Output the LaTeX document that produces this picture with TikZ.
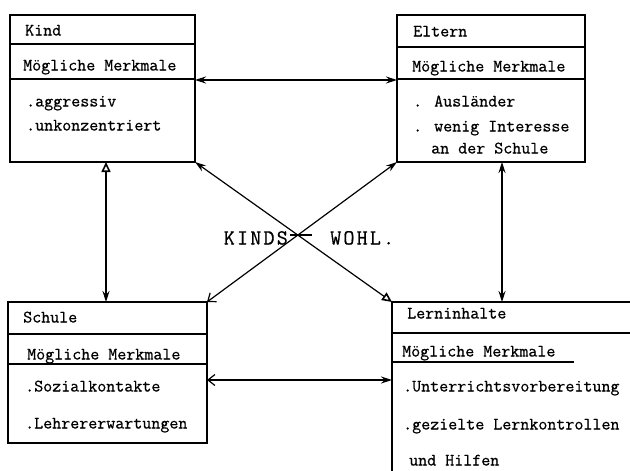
\documentclass[tikz,border=0pt]{standalone}
\usepackage{fontspec}
\newfontfamily\tw[FakeBold=0.6]{Latin Modern Mono}
\newfontfamily\twk[LetterSpace=10,FakeBold=0.6]{Latin Modern Mono}
\usetikzlibrary{arrows.meta}
\tikzset{
  fa/.tip={Stealth[length=11pt,width=7pt]},
  oa/.tip={Triangle[open,length=10pt,width=9pt,line width=1.6pt]},
  ba/.tip={Straight Barb[length=7pt,width=11pt,line width=1.2pt]}
}
\begin{document}
\begin{tikzpicture}[x=1pt,y=-1pt,
  box/.style={draw, line width=1.1pt, inner sep=0pt, outer sep=0pt},
  openbox/.style={inner sep=0pt, outer sep=0pt},
  rule/.style={line width=1.1pt},
  txt/.style={anchor=west, inner sep=0pt, font=\tw\fontsize{17.5}{20}\selectfont, text height=10pt, text depth=3pt},
  kw/.style={inner sep=0pt, font=\twk\fontsize{21.5}{24}\selectfont, text height=13pt, text depth=0pt},
  link/.style={line width=1.2pt}]
\useasboundingbox (0,0) rectangle (630,471);
\fill[white] (0,0) rectangle (630,471);

% boxes
\node[box, minimum width=185pt, minimum height=147pt] (kind) at (102.5,88.5) {};
\draw[rule] ([yshift=-29pt]kind.north west) -- ([yshift=-29pt]kind.north east);
\draw[rule] ([yshift=-64pt]kind.north west) -- ([yshift=-64pt]kind.north east);

\node[box, minimum width=188pt, minimum height=147pt] (eltern) at (491,88.5) {};
\draw[rule] ([yshift=-32pt]eltern.north west) -- ([yshift=-32pt]eltern.north east);
\draw[rule] ([yshift=-64pt]eltern.north west) -- ([yshift=-64pt]eltern.north east);

\node[box, minimum width=199pt, minimum height=141pt] (schule) at (107.5,372.5) {};
\draw[rule] ([yshift=-32pt]schule.north west) -- ([yshift=-32pt]schule.north east);
\draw[rule] ([yshift=-62pt]schule.north west) -- ([yshift=-62pt]schule.north east);

\node[openbox, minimum width=238pt, minimum height=169pt] (lern) at (511,386.5) {};
\draw[rule] (lern.south west) -- (lern.north west) -- (lern.north east);
\draw[rule] ([yshift=-31pt]lern.north west) -- ([yshift=-31pt]lern.north east);
\draw[rule] ([yshift=-60pt]lern.north west) -- ([yshift=-60pt,xshift=182pt]lern.north west);

% texts
\node[txt] (kt) at (25,32) {Kind};
\node[txt] (km) at (23,67) {Mögliche Merkmale};
\node[txt] (k1) at (26,103) {.aggressiv};
\node[txt] (k2) at (26,127) {.unkonzentriert};

\node[txt] (et) at (413,33) {Eltern};
\node[txt] (em) at (412,68) {Mögliche Merkmale};
\node[txt] (e1) at (413,103) {. Ausländer};
\node[txt] (e2) at (413,128) {. wenig Interesse};
\node[txt] (e3) at (431,150) {an der Schule};

\node[txt] (st) at (23,319) {Schule};
\node[txt] (sm) at (27,356) {Mögliche Merkmale};
\node[txt] (s1) at (25,388) {.Sozialkontakte};
\node[txt] (s2) at (25,425) {.Lehrererwartungen};

\node[txt] (lt) at (407,315) {Lerninhalte};
\node[txt] (lm) at (402,353) {Mögliche Merkmale};
\node[txt] (l1) at (403,388) {.Unterrichtsvorbereitung};
\node[txt] (l2) at (403,426) {.gezielte Lernkontrollen};
\node[txt] (l3) at (409,462) {und Hilfen};

% connectors
\draw[link, fa-fa] ([yshift=-65pt]kind.north east) -- ([yshift=-65pt]eltern.north west);
\draw[link, oa-fa] ([xshift=3.5pt]kind.south) -- ([xshift=-1.5pt]schule.north);
\draw[link, fa-fa] ([xshift=11pt]eltern.south) -- ([xshift=-9pt]lern.north);
\draw[link, ba-fa] ([yshift=-78pt]schule.north east) -- ([yshift=-78pt]lern.north west);
\draw[link, fa-oa] (kind.south east) -- (lern.north west);
\draw[link, fa-ba] (eltern.south west) -- (schule.north east);

\coordinate (mid) at (intersection of kind.south east--lern.north west and eltern.south west--schule.north east);
\draw[link, line width=2pt] ([xshift=-8pt]mid) -- ([xshift=14pt]mid);
\node[kw, anchor=east] (kinds) at (288,238) {KINDS};
\node[kw, anchor=west] (wohl) at (330,238) {WOHL.};
\end{tikzpicture}
\end{document}
